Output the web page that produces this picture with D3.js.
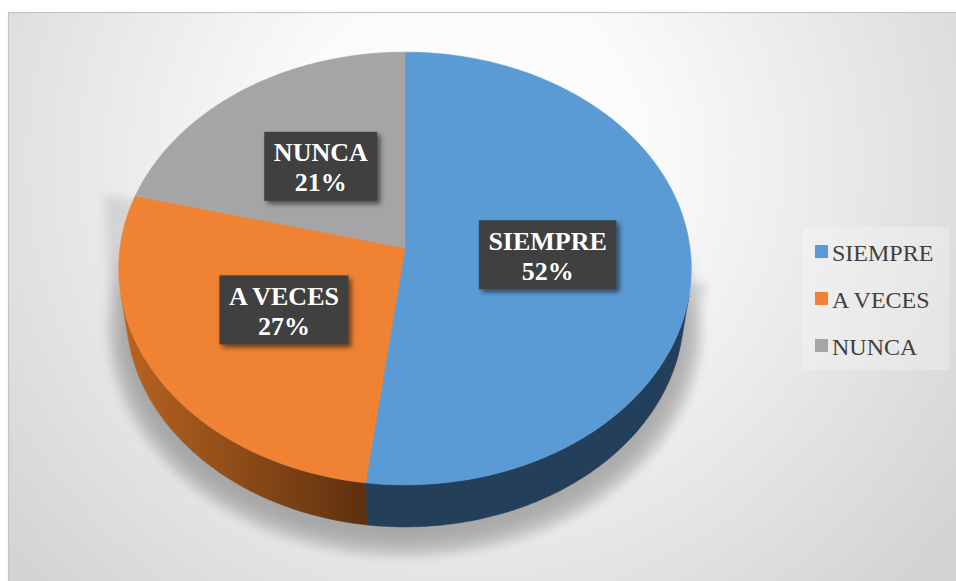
<!DOCTYPE html>
<html><head><meta charset="utf-8">
<script src="https://cdn.jsdelivr.net/npm/d3@7/dist/d3.min.js"></script>
<style>body{margin:0;background:#fff}svg{display:block}</style>
</head><body>
<svg id="c" width="956" height="581"></svg>
<script>
const categories = ["SIEMPRE", "A VECES", "NUNCA"];
const values = [52, 27, 21];
const labels = ["52%", "27%", "21%"];
const topColors = ["#5b9bd5", "#f08233", "#a5a5a5"];
const sideColors = ["#243f5a", "url(#gOrangeSide)", "#636363"];

const svg = d3.select("#c");
const W = 956, H = 581;
const defs = svg.append("defs");

const bg = defs.append("radialGradient").attr("id","bgGrad").attr("gradientUnits","userSpaceOnUse")
  .attr("cx",470).attr("cy",160).attr("r",620);
bg.append("stop").attr("offset","0").attr("stop-color","#ffffff");
bg.append("stop").attr("offset","0.3").attr("stop-color","#fafafa");
bg.append("stop").attr("offset","1").attr("stop-color","#d2d2d2");

const og = defs.append("linearGradient").attr("id","gOrangeSide").attr("gradientUnits","userSpaceOnUse")
  .attr("x1",117).attr("y1",0).attr("x2",372).attr("y2",0);
og.append("stop").attr("offset","0").attr("stop-color","#bb6521");
og.append("stop").attr("offset","1").attr("stop-color","#5c2f0e");

const blur = defs.append("filter").attr("id","shadowBlur").attr("x","-30%").attr("y","-30%").attr("width","160%").attr("height","160%");
blur.append("feGaussianBlur").attr("stdDeviation",9);
const blur2 = defs.append("filter").attr("id","shadowBlur2").attr("x","-30%").attr("y","-30%").attr("width","160%").attr("height","160%");
blur2.append("feGaussianBlur").attr("stdDeviation",5);
const ds = defs.append("filter").attr("id","boxShadow").attr("x","-20%").attr("y","-20%").attr("width","150%").attr("height","150%");
ds.append("feDropShadow").attr("dx",3).attr("dy",3).attr("stdDeviation",2.5).attr("flood-color","#000").attr("flood-opacity",0.55);

svg.append("rect").attr("x",8.5).attr("y",12.5).attr("width",W+10).attr("height",H+10)
  .attr("fill","url(#bgGrad)").attr("stroke","#c4c4c4").attr("stroke-width",1.2);

const cx = 405, cy = 248, D = 6.955, K = 1982, phi = 48.8*Math.PI/180;
const s = Math.sin(phi), c = Math.cos(phi), h = 0.242;
function proj(theta, y, r) {
  r = r === undefined ? 1 : r;
  const x = r*Math.sin(theta), z = r*Math.cos(theta);
  const yc = y*c + z*s, depth = D + z*c - y*s;
  return [cx + K*x/depth, cy - K*yc/depth];
}

const pie = d3.pie().sort(null).value(d => d)(values);

// broad perspective shadow
const broad = [[104, 195]];
for (let t = 1.5*Math.PI; t >= 0.5*Math.PI - 1e-9; t -= Math.PI/90) {
  const p = proj(t, -h, 1.06);
  broad.push([p[0], p[1] + 14]);
}
broad.push([708, 285]);
broad.push([405, 250]);
svg.append("path").attr("d", d3.line()(broad) + "Z").attr("fill","#000").attr("opacity",0.09)
  .attr("filter","url(#shadowBlur2)");

// contact shadow
const sil = [];
for (let t = 0; t <= 2*Math.PI + 1e-9; t += Math.PI/90) {
  const p = proj(t, -h, 1.04);
  sil.push([p[0], p[1] + 10]);
}
svg.append("path").attr("d", d3.line()(sil) + "Z").attr("fill","#000").attr("opacity",0.2)
  .attr("filter","url(#shadowBlur)");

const vis0 = Math.acos(-1/(D*c)), vis1 = 2*Math.PI - vis0;
pie.forEach((d,i) => {
  const a0 = Math.max(d.startAngle, vis0), a1 = Math.min(d.endAngle, vis1);
  if (a1 <= a0) return;
  const n = Math.max(2, Math.ceil((a1-a0)/(Math.PI/180)));
  const topPts = [], botPts = [];
  for (let j = 0; j <= n; j++) {
    const t = a0 + (a1-a0)*j/n;
    topPts.push(proj(t,0)); botPts.push(proj(t,-h));
  }
  svg.append("path").attr("d", d3.line()(topPts.concat(botPts.reverse())) + "Z")
    .attr("fill", sideColors[i]).attr("stroke", sideColors[i]).attr("stroke-width",0.5);
});

pie.forEach((d,i) => {
  const pts = [proj(0,0,0)];
  const n = Math.max(2, Math.ceil((d.endAngle-d.startAngle)/(Math.PI/180)));
  for (let j = 0; j <= n; j++) pts.push(proj(d.startAngle + (d.endAngle-d.startAngle)*j/n, 0));
  svg.append("path").attr("d", d3.line()(pts) + "Z").attr("fill", topColors[i])
    .attr("stroke", topColors[i]).attr("stroke-width",0.6);
});

pie.forEach((d,i) => {
  const mid = (d.startAngle + d.endAngle)/2;
  const p = proj(mid, 0, 0.5);
  const g = svg.append("g");
  const rect = g.append("rect").attr("fill","#3f3f3f").attr("filter","url(#boxShadow)");
  const t = g.append("text").attr("font-family","'Liberation Serif','Times New Roman',serif")
    .attr("font-weight","bold").attr("font-size",26).attr("fill","#fff").attr("text-anchor","middle");
  t.append("tspan").attr("x",p[0]).attr("y",p[1]-5).text(categories[i]);
  t.append("tspan").attr("x",p[0]).attr("y",p[1]+25).text(labels[i]);
  const bb = t.node().getBBox();
  const w = bb.width + 19;
  rect.attr("x", p[0]-w/2).attr("y", p[1]-34.5).attr("width", w).attr("height", 69);
});

const lg = svg.append("g");
lg.append("rect").attr("x",803).attr("y",227).attr("width",146).attr("height",143)
  .attr("fill","#ffffff").attr("opacity",0.25);
categories.forEach((cat,i) => {
  const y = 251 + i*47;
  lg.append("rect").attr("x",815).attr("y",y-6).attr("width",13).attr("height",13).attr("fill",topColors[i]);
  lg.append("text").attr("x",832).attr("y",y+9.5).attr("font-family","'Liberation Serif','Times New Roman',serif")
    .attr("font-size",24).attr("fill","#404040").text(cat);
});
</script>
</body></html>
